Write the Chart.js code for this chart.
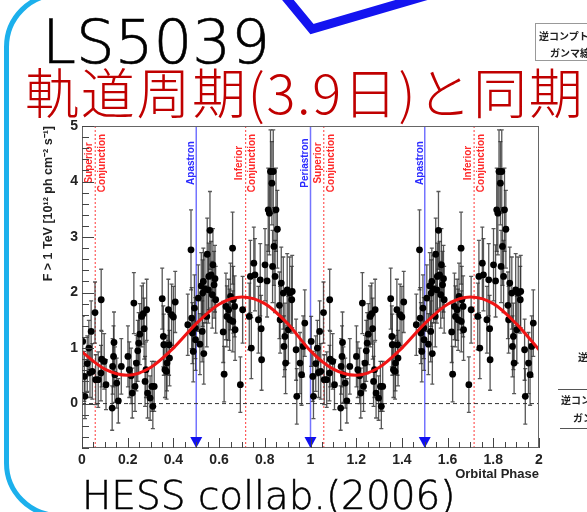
<!DOCTYPE html>
<html>
<head>
<meta charset="utf-8">
<script src="https://cdn.jsdelivr.net/npm/chart.js@4.4.0/dist/chart.umd.min.js"></script>
<style>
  html, body { margin: 0; padding: 0; background: #fff; }
  #slide { position: relative; width: 587px; height: 512px; overflow: hidden; background: #fff; }
  #frame { position: absolute; left: 4px; top: -8px; width: 700px; height: 526px; box-sizing: border-box;
           border: 5px solid #1cb0ec; border-radius: 55px; }
  #deco { position: absolute; left: 0; top: 0; }
  #cv { position: absolute; left: 0; top: 0; }
  .t { position: absolute; white-space: nowrap; margin: 0; line-height: 1; }
  #name { left: 42px; top: 6px; font: 200 61px "DejaVu Sans"; color: #000; -webkit-text-stroke: 0.6px #000; }
  #jp { left: 25px; top: 51px; font: 300 54px "Noto Sans CJK JP"; color: #c00000; letter-spacing: 1.7px; }
  #ref { left: 82px; top: 473px; font: 200 39px "DejaVu Sans"; color: #000; -webkit-text-stroke: 0.5px #000; }
  .small { font: bold 10px "Noto Sans CJK JP"; color: #222; }
  .box { position: absolute; left: 535px; top: 23px; width: 80px; height: 38px; border: 1px solid #999; box-sizing: border-box; }
  .rule { position: absolute; height: 0; border-top: 1px solid #555; }
</style>
</head>
<body>
<div id="slide">
  <div id="frame"></div>
  <svg id="deco" width="587" height="512">
    <polyline points="283,-6 312,29 432,-6" stroke="#1414f0" stroke-width="9" fill="none" stroke-linejoin="miter"/>
  </svg>
  <canvas id="cv" width="587" height="512"></canvas>
  <div class="t" id="name">LS5039</div>
  <div class="t" id="jp">軌道周期(3.9日)と同期</div>
  <div class="t" id="ref">HESS collab.(2006)</div>
  <div class="box"></div>
  <div class="t small" style="left:539px;top:28px;">逆コンプト</div>
  <div class="t small" style="left:550px;top:45px;">ガンマ線</div>
  <div class="t small" style="left:578px;top:349px;">逆</div>
  <div class="rule" style="left:558px;top:389px;width:40px;"></div>
  <div class="t small" style="left:561px;top:392px;">逆コン</div>
  <div class="t small" style="left:573px;top:410px;">ガン</div>
  <div class="rule" style="left:560px;top:428px;width:40px;"></div>
</div>
<script>
// phase-folded light curve, one orbit (drawn twice, 0-1 and 1-2)
const phase = [0.003,0.010,0.013,0.023,0.030,0.035,0.040,0.045,0.057,0.060,0.071,0.083,0.084,0.086,0.097,0.105,
  0.132,0.134,0.138,0.140,0.144,0.152,0.159,0.172,0.201,0.207,0.215,0.220,0.227,0.232,0.238,0.244,0.248,0.253,
  0.261,0.268,0.272,0.276,0.280,0.283,0.287,0.298,0.306,0.310,0.316,0.351,0.356,0.358,0.363,0.370,0.372,0.378,
  0.381,0.383,0.392,0.400,0.408,0.463,0.477,0.480,0.483,0.487,0.492,0.496,0.497,0.509,0.516,0.522,0.526,0.528,
  0.531,0.533,0.538,0.546,0.548,0.553,0.555,0.560,0.565,0.570,0.573,0.578,0.582,0.585,0.618,0.622,0.630,0.634,
  0.642,0.646,0.650,0.659,0.660,0.662,0.668,0.670,0.693,0.703,0.732,0.737,0.741,0.752,0.757,0.772,0.780,0.784,
  0.786,0.801,0.810,0.815,0.820,0.825,0.831,0.834,0.837,0.840,0.845,0.849,0.855,0.864,0.867,0.872,0.881,0.884,
  0.888,0.891,0.898,0.903,0.909,0.918,0.920,0.937,0.940,0.954,0.961,0.968,0.975];
const flux = [1.12,0.49,0.13,0.72,1.00,0.56,1.30,0.58,1.64,0.43,0.43,0.55,1.87,0.80,0.76,0.34,
  -0.08,0.67,0.85,1.10,0.52,0.37,0.05,0.67,0.85,0.61,0.50,0.19,1.81,0.31,0.73,0.95,1.09,1.25,
  1.57,1.62,1.35,0.40,0.61,1.69,0.19,0.10,0.31,-0.05,0.31,1.89,1.21,1.06,0.61,0.58,0.73,1.69,
  1.06,0.82,1.60,1.56,1.83,1.42,2.77,1.54,1.27,0.94,1.72,1.36,1.15,1.90,1.07,2.12,1.30,1.99,
  2.20,0.90,2.06,1.57,2.69,2.05,2.29,3.12,2.32,1.96,2.50,2.14,2.25,1.87,1.29,0.53,1.75,1.57,
  1.69,1.51,1.93,2.80,1.48,1.87,1.75,1.33,0.34,1.69,1.57,2.29,1.00,2.53,2.32,1.51,2.23,1.35,
  0.79,2.50,2.21,3.49,3.43,4.18,3.97,2.47,4.18,2.83,2.29,3.49,3.14,1.77,1.51,2.17,1.99,1.03,
  1.21,0.73,2.05,1.33,1.99,1.87,2.02,0.97,0.13,0.73,0.52,1.03,1.45];
const fluxErr = [0.45,0.45,0.40,0.50,0.50,0.45,0.55,0.50,0.55,0.45,0.50,0.50,0.55,0.50,0.50,0.45,
  0.40,0.50,0.55,0.55,0.50,0.45,0.40,0.50,0.55,0.50,0.50,0.45,0.55,0.45,0.50,0.55,0.55,0.55,
  0.55,0.55,0.55,0.45,0.50,0.55,0.45,0.40,0.45,0.40,0.45,0.55,0.55,0.55,0.50,0.50,0.50,0.55,
  0.55,0.50,0.55,0.55,0.55,0.55,0.72,0.55,0.55,0.55,0.60,0.55,0.55,0.60,0.55,0.60,0.55,0.60,
  0.60,0.55,0.60,0.55,0.65,0.60,0.60,0.70,0.60,0.60,0.65,0.60,0.60,0.60,0.55,0.50,0.60,0.55,
  0.55,0.55,0.60,0.65,0.55,0.60,0.55,0.55,0.50,0.60,0.60,0.65,0.55,0.65,0.65,0.60,0.65,0.60,
  0.55,0.65,0.65,0.75,0.75,0.75,0.75,0.65,0.75,0.70,0.65,0.75,0.70,0.60,0.60,0.65,0.65,0.55,
  0.60,0.55,0.65,0.60,0.65,0.60,0.65,0.55,0.50,0.55,0.55,0.55,0.60];

// sinusoidal fit
const fitPhase = [0,0.1,0.2,0.3,0.4,0.5,0.6,0.7,0.8,0.9,1.0,1.1,1.2,1.3,1.4,1.5,1.6,1.7,1.8,1.9,2.0];
const fitFlux  = [0.93,0.62,0.51,0.65,1.00,1.44,1.79,1.92,1.80,1.44,0.95,0.62,0.51,0.65,1.00,1.44,1.79,1.92,1.80,1.44,0.97];

const xTickVals = [0,0.2,0.4,0.6,0.8,1,1.2,1.4,1.6,1.8,2];
const xTickLabels = ['0','0.2','0.4','0.6','0.8','1','1.2','1.4','1.6','1.8','2'];
const yTickVals = [0,1,2,3,4,5];
const yTickLabels = ['0','1','2','3','4','5'];

const apastronPhase = [0.5, 1.5];
const periastronPhase = [1.0];
const supConjPhase = [0.058, 1.058];
const infConjPhase = [0.716, 1.716];

const allPhase = phase.concat(phase.map(p => p + 1));
const allFlux = flux.concat(flux);
const allErr = fluxErr.concat(fluxErr);

const decor = {
  id: 'decor',
  beforeDatasetsDraw(chart) {
    const { ctx, chartArea: a, scales: { x, y } } = chart;
    ctx.save();
    ctx.beginPath();
    ctx.rect(a.left, a.top, a.right - a.left, a.bottom - a.top);
    ctx.clip();

    // orbit markers
    ctx.lineWidth = 1.5;
    ctx.strokeStyle = 'rgba(70,70,255,0.75)';
    for (const p of apastronPhase.concat(periastronPhase)) {
      const px = x.getPixelForValue(p);
      ctx.beginPath(); ctx.moveTo(px, a.top); ctx.lineTo(px, a.bottom); ctx.stroke();
    }
    ctx.lineWidth = 1.2;
    ctx.strokeStyle = '#ff5a5a';
    ctx.setLineDash([2, 2]);
    for (const p of supConjPhase.concat(infConjPhase)) {
      const px = x.getPixelForValue(p);
      ctx.beginPath(); ctx.moveTo(px, a.top); ctx.lineTo(px, a.bottom); ctx.stroke();
    }

    // zero line
    ctx.strokeStyle = '#333';
    ctx.lineWidth = 1;
    ctx.setLineDash([4, 3]);
    const y0 = y.getPixelForValue(0);
    ctx.beginPath(); ctx.moveTo(a.left, y0); ctx.lineTo(a.right, y0); ctx.stroke();
    ctx.setLineDash([]);

    // error bars
    ctx.strokeStyle = 'rgba(45,45,45,0.8)';
    ctx.lineWidth = 1.3;
    for (let i = 0; i < allPhase.length; i++) {
      const px = x.getPixelForValue(allPhase[i]);
      const top = y.getPixelForValue(allFlux[i] + allErr[i]);
      const bot = y.getPixelForValue(allFlux[i] - allErr[i]);
      ctx.beginPath();
      ctx.moveTo(px, top); ctx.lineTo(px, bot);
      ctx.moveTo(px - 2, top); ctx.lineTo(px + 2, top);
      ctx.moveTo(px - 2, bot); ctx.lineTo(px + 2, bot);
      ctx.stroke();
    }
    ctx.restore();
  },
  afterDatasetsDraw(chart) {
    const { ctx, chartArea: a, scales: { x, y } } = chart;
    ctx.save();

    // blue arrows at the bottom
    ctx.fillStyle = '#1010f0';
    for (const p of apastronPhase.concat(periastronPhase)) {
      const px = x.getPixelForValue(p);
      ctx.beginPath();
      ctx.moveTo(px - 6, a.bottom - 11);
      ctx.lineTo(px + 6, a.bottom - 11);
      ctx.lineTo(px, a.bottom);
      ctx.closePath();
      ctx.fill();
    }

    // vertical labels
    ctx.font = 'bold 10px "Liberation Sans"';
    ctx.textAlign = 'center';
    ctx.textBaseline = 'middle';
    const label = (px, text, color) => {
      ctx.save();
      ctx.translate(px, 163);
      ctx.rotate(-Math.PI / 2);
      ctx.fillStyle = color;
      ctx.fillText(text, 0, 0);
      ctx.restore();
    };
    for (const p of supConjPhase) {
      const px = x.getPixelForValue(p);
      label(px - 6, 'Superior', '#ff2a2a');
      label(px + 7, 'Conjunction', '#ff2a2a');
    }
    for (const p of infConjPhase) {
      const px = x.getPixelForValue(p);
      label(px - 6, 'Inferior', '#ff2a2a');
      label(px + 7, 'Conjunction', '#ff2a2a');
    }
    for (const p of apastronPhase) label(x.getPixelForValue(p) - 5, 'Apastron', '#2a2aff');
    for (const p of periastronPhase) label(x.getPixelForValue(p) - 5, 'Periastron', '#2a2aff');

    // frame
    ctx.strokeStyle = '#666';
    ctx.lineWidth = 1;
    ctx.strokeRect(a.left + 0.5, a.top + 0.5, a.right - a.left - 1, a.bottom - a.top - 1);

    // ticks, ROOT style (inward)
    ctx.strokeStyle = '#444';
    ctx.beginPath();
    for (let v = 0; v <= 2.0001; v += 0.05) {
      const px = Math.round(x.getPixelForValue(v)) + 0.5;
      const major = Math.abs(v * 5 - Math.round(v * 5)) < 1e-6;
      ctx.moveTo(px, a.bottom); ctx.lineTo(px, a.bottom - (major ? 10 : 6));
    }
    for (let v = -0.8; v <= 5.0001; v += 0.2) {
      const py = Math.round(y.getPixelForValue(v)) + 0.5;
      const major = Math.abs(v - Math.round(v)) < 1e-6;
      ctx.moveTo(a.left, py); ctx.lineTo(a.left + (major ? 12 : 7), py);
    }
    ctx.stroke();
    ctx.restore();
  }
};

new Chart(document.getElementById('cv'), {
  type: 'scatter',
  data: {
    datasets: [
      {
        type: 'line',
        data: fitPhase.map((p, i) => ({ x: p, y: fitFlux[i] })),
        borderColor: '#f01414',
        borderWidth: 3,
        pointRadius: 0,
        cubicInterpolationMode: 'monotone',
        fill: false
      },
      {
        data: allPhase.map((p, i) => ({ x: p, y: allFlux[i] })),
        backgroundColor: '#000',
        borderWidth: 0,
        pointRadius: 3.4
      }
    ]
  },
  options: {
    responsive: false,
    animation: false,
    events: [],
    layout: { padding: { left: 0, top: 126, right: 48, bottom: 0 } },
    plugins: { legend: { display: false }, tooltip: { enabled: false } },
    scales: {
      x: {
        type: 'linear', min: 0, max: 2,
        grid: { display: false, drawTicks: false },
        border: { display: false },
        afterBuildTicks: s => { s.ticks = xTickVals.map(v => ({ value: v })); },
        afterFit: s => { s.height = 64; },
        ticks: {
          callback: (v, i) => xTickLabels[i],
          font: { family: 'Liberation Sans', weight: 'bold', size: 14 },
          color: '#222', padding: 4, maxRotation: 0, autoSkip: false
        },
        title: {
          display: true, text: 'Orbital Phase', align: 'end', color: '#222',
          font: { family: 'Liberation Sans', weight: 'bold', size: 13 },
          padding: { top: 0, bottom: 30 }
        }
      },
      y: {
        type: 'linear', min: -0.8, max: 5,
        grid: { display: false, drawTicks: false },
        border: { display: false },
        afterBuildTicks: s => { s.ticks = yTickVals.map(v => ({ value: v })); },
        afterFit: s => { s.width = 82; },
        ticks: {
          callback: (v, i) => yTickLabels[i],
          font: { family: 'Liberation Sans', weight: 'bold', size: 14 },
          color: '#222', padding: 4
        },
        title: {
          display: true, text: 'F > 1 TeV [10¹² ph cm⁻² s⁻¹]', align: 'end', color: '#222',
          font: { family: 'Liberation Sans', weight: 'bold', size: 12.5 },
          padding: { top: 41, bottom: 0 }
        }
      }
    }
  },
  plugins: [decor]
});
</script>
</body>
</html>
